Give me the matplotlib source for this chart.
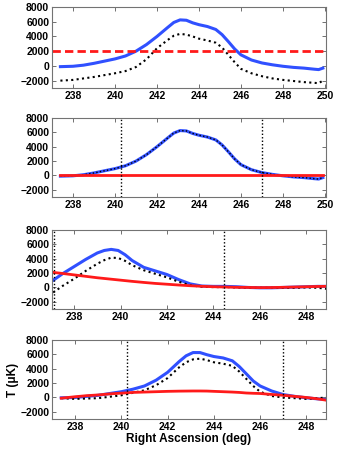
import matplotlib
matplotlib.use('Agg')
import matplotlib.pyplot as plt

plt.rcParams['font.family'] = ['Liberation Sans', 'DejaVu Sans']
plt.rcParams['font.weight'] = 'bold'

# Panels 1 and 2 share the same scan
ra_a = [237.4, 238.0, 238.5, 239.0, 239.5, 240.0, 240.5, 241.0, 241.5, 242.0,
        242.5, 242.8, 243.1, 243.4, 243.7, 244.0, 244.4, 244.8, 245.1, 245.4,
        245.7, 246.0, 246.5, 247.0, 247.5, 248.0, 248.5, 249.0, 249.5, 249.7, 249.9]
blue_a = [-100, -50, 100, 350, 650, 950, 1350, 2000, 2900, 4000,
          5200, 5900, 6250, 6200, 5850, 5600, 5350, 4950, 4250, 3300,
          2300, 1500, 800, 400, 150, -50, -200, -300, -450, -500, -300]
dot_a = [-2000, -1900, -1700, -1500, -1250, -1000, -700, -150, 900, 2400,
         3500, 4100, 4350, 4250, 4000, 3700, 3450, 3150, 2500, 1500,
         500, -400, -1000, -1400, -1700, -1900, -2050, -2200, -2300, -2350, -2000]
base_a = 2000
red_b = [0] * len(ra_a)
cuts_b = [240.27, 247.02]

# Panel 3
ra_c = [237.1, 237.5, 238.0, 238.5, 239.0, 239.3, 239.6, 239.9, 240.2, 240.5,
        241.0, 241.5, 242.0, 242.5, 243.0, 243.5, 244.0, 244.5, 245.0, 245.5,
        246.0, 246.5, 247.0, 247.5, 248.0, 248.5, 248.9]
blue_c = [1000, 1900, 2900, 3900, 4800, 5150, 5300, 5150, 4550, 3750,
          2800, 2300, 1800, 1100, 500, 200, 150, 150, 100, 0,
          -50, -50, 0, 50, 100, 150, 150]
dot_c = [-700, 200, 1200, 2300, 3300, 3800, 4150, 4100, 3700, 3100,
         2400, 1900, 1400, 800, 300, 100, 50, 50, 0, -50,
         -50, -50, -50, -50, 0, -50, -200]
red_c = [2100, 1950, 1750, 1550, 1350, 1250, 1150, 1050, 950, 850,
         700, 560, 450, 340, 240, 160, 100, 60, 20, 0,
         -20, -10, 20, 60, 100, 140, 160]
cuts_c = [237.12, 244.45]

# Panel 4
ra_d = [237.4, 238.0, 238.5, 239.0, 239.5, 240.0, 240.5, 241.0, 241.5, 242.0,
        242.5, 242.8, 243.1, 243.4, 243.7, 244.0, 244.4, 244.8, 245.1, 245.4,
        245.7, 246.0, 246.5, 247.0, 247.5, 248.0, 248.5, 248.9]
blue_d = [-50, 0, 150, 300, 550, 800, 1150, 1600, 2400, 3500,
          5000, 5800, 6250, 6250, 5950, 5700, 5500, 5100, 4300, 3300,
          2300, 1600, 900, 400, 150, -50, -200, -300]
dot_d = [-100, -200, -150, -100, 100, 300, 650, 1000, 1700, 2700,
         4200, 4900, 5300, 5400, 5200, 4900, 4700, 4400, 3600, 2600,
         1600, 800, 200, 0, -100, -200, -100, 0]
red_d = [-100, 100, 250, 350, 500, 600, 700, 750, 800, 850,
         880, 890, 900, 900, 890, 850, 800, 750, 700, 620,
         580, 550, 420, 300, 150, 0, -200, -400]
cuts_d = [240.25, 247.0]

yticks = [-2000, 0, 2000, 4000, 6000, 8000]
xticks_ab = [238, 240, 242, 244, 246, 248, 250]
xticks_cd = [238, 240, 242, 244, 246, 248]

BLUE = '#3050ff'
RED = '#ff1a1a'
DOT = (0, (1, 1.6))

W, H = 338, 449
fig = plt.figure(figsize=(W / 100, H / 100), dpi=100)


def make_axes(top, bottom):
    ax = fig.add_axes([52 / W, 1 - bottom / H, 274 / W, (bottom - top) / H])
    ax.set_ylim(-3000, 8000)
    ax.set_yticks(yticks)
    ax.tick_params(direction='in', length=3, width=0.6, labelsize=7.5,
                   top=True, right=True, pad=2, color='0.35')
    for s in ax.spines.values():
        s.set_color('0.45')
        s.set_linewidth(0.8)
    return ax


def bold_ticks(ax):
    for lab in ax.get_xticklabels() + ax.get_yticklabels():
        lab.set_fontweight('bold')


# Panel 1
ax1 = make_axes(7, 88)
ax1.plot(ra_a, blue_a, color=BLUE, lw=2.2)
ax1.plot(ra_a, dot_a, color='k', lw=1.5, ls=DOT)
ax1.axhline(base_a, color=RED, lw=2, ls=(0, (3, 1.5)))
ax1.set_xlim(237.0, 250.05)
ax1.set_xticks(xticks_ab)

# Panel 2
ax2 = make_axes(118, 197)
ax2.plot(ra_a, blue_a, color=BLUE, lw=2.2)
ax2.plot(ra_a, blue_a, color='k', lw=1.0, ls=DOT)
ax2.plot(ra_a, red_b, color=RED, lw=2)
for c in cuts_b:
    ax2.axvline(c, color='k', lw=1, ls=(0, (1, 1.5)))
ax2.set_xlim(237.0, 250.05)
ax2.set_xticks(xticks_ab)

# Panel 3
ax3 = make_axes(230, 309)
ax3.plot(ra_c, blue_c, color=BLUE, lw=2.2)
ax3.plot(ra_c, dot_c, color='k', lw=1.5, ls=DOT)
ax3.plot(ra_c, red_c, color=RED, lw=2)
for c in cuts_c:
    ax3.axvline(c, color='k', lw=1, ls=(0, (1, 1.5)))
ax3.set_xlim(237.05, 248.85)
ax3.set_xticks(xticks_cd)

# Panel 4
ax4 = make_axes(340, 419)
ax4.plot(ra_d, blue_d, color=BLUE, lw=2.2)
ax4.plot(ra_d, dot_d, color='k', lw=1.5, ls=DOT)
ax4.plot(ra_d, red_d, color=RED, lw=2)
for c in cuts_d:
    ax4.axvline(c, color='k', lw=1, ls=(0, (1, 1.5)))
ax4.set_xlim(237.0, 248.85)
ax4.set_xticks(xticks_cd)
ax4.set_xlabel('Right Ascension (deg)', fontsize=8.5, fontweight='bold', labelpad=1)
ax4.set_ylabel('T (\u03bcK)', fontsize=8.5, fontweight='bold', labelpad=1)

for ax in (ax1, ax2, ax3, ax4):
    bold_ticks(ax)

fig.savefig('out.png', dpi=100)
